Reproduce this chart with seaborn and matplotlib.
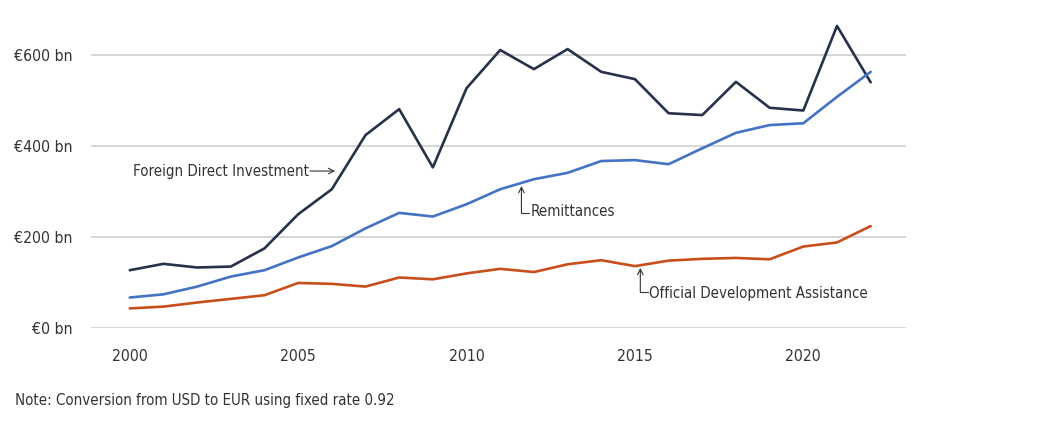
import pandas as pd
import matplotlib.pyplot as plt
from matplotlib import font_manager
import seaborn as sns

# === Data (EUR bn) ===
years = list(range(2000, 2023))
fdi = [127, 141, 133, 135, 175, 250, 305, 424, 481, 353, 527, 611, 569, 613,
       563, 547, 472, 468, 541, 484, 478, 664, 540]
remittances = [67, 74, 91, 113, 127, 155, 180, 219, 253, 245, 272, 305, 327, 341,
               367, 369, 360, 395, 429, 446, 450, 508, 563]
oda = [43, 47, 56, 64, 72, 99, 97, 91, 111, 107, 120, 130, 123, 140,
       149, 136, 148, 152, 154, 151, 179, 188, 224]
series_names = ["Foreign Direct Investment", "Remittances", "Official Development Assistance"]
series_colors = ["#25324a", "#4472c4", "#c84f1c"]
y_ticks = [0, 200, 400, 600]
y_tick_labels = ["€0 bn", "€200 bn", "€400 bn", "€600 bn"]
x_ticks = [2000, 2005, 2010, 2015, 2020]

df = pd.DataFrame({
    "year": years * 3,
    "value": fdi + remittances + oda,
    "series": [series_names[0]] * len(years) + [series_names[1]] * len(years) + [series_names[2]] * len(years),
})

sns.set_style("white")

# the original uses a condensed sans -> DejaVu Sans Condensed if it is there
fonts = font_manager.fontManager.ttflist
condensed = [f for f in fonts if f.name == "DejaVu Sans" and f.stretch in ("condensed", "semi-condensed", 625, 500)]
if condensed:
    plt.rcParams["font.family"] = ["DejaVu Sans"]
    plt.rcParams["font.stretch"] = "condensed"
    fs, fs_tick = 10.8, 11.3
else:
    plt.rcParams["font.family"] = ["Roboto", "DejaVu Sans"]
    fs, fs_tick = 10.5, 11
txt_color = "#333333"

fig = plt.figure(figsize=(10.37, 4.23), dpi=100)
ax = fig.add_axes([0.0878, 0.2246, 0.7859, 0.7529])

sns.lineplot(data=df, x="year", y="value", hue="series", hue_order=series_names,
             palette=series_colors, linewidth=1.9, legend=False, ax=ax)

ax.set_xlim(1998.85, 2023.05)
ax.set_ylim(0, 700)
ax.set_yticks(y_ticks)
ax.set_yticklabels(y_tick_labels)
ax.set_xticks(x_ticks)
ax.set_xticklabels([str(x) for x in x_ticks])
ax.tick_params(axis="y", length=0, pad=13, labelsize=fs_tick, labelcolor=txt_color)
ax.tick_params(axis="x", length=0, pad=15, labelsize=fs_tick, labelcolor=txt_color)
ax.set_xlabel("")
ax.set_ylabel("")
ax.grid(axis="y", color="#cccccc", linewidth=1.1)
ax.set_axisbelow(True)
for s in ax.spines.values():
    s.set_visible(False)

# === Labels on the lines ===
lab_kw = dict(fontsize=fs, color=txt_color, va="center")
ax.text(2000.1, 343, "Foreign Direct Investment", ha="left", **lab_kw)
ax.annotate("", xy=(2006.1, 345), xytext=(2005.35, 345),
            arrowprops=dict(arrowstyle="->", color=txt_color, lw=0.8, shrinkA=0, shrinkB=0))

ax.annotate("", xy=(2011.63, 312), xytext=(2011.63, 253),
            arrowprops=dict(arrowstyle="->", color=txt_color, lw=0.8, shrinkA=0, shrinkB=0))
ax.plot([2011.63, 2011.85], [253, 253], color=txt_color, lw=0.8)
ax.text(2011.9, 255, "Remittances", ha="left", **lab_kw)

ax.annotate("", xy=(2015.16, 132), xytext=(2015.16, 79),
            arrowprops=dict(arrowstyle="->", color=txt_color, lw=0.8, shrinkA=0, shrinkB=0))
ax.plot([2015.16, 2015.38], [79, 79], color=txt_color, lw=0.8)
ax.text(2015.43, 75, "Official Development Assistance", ha="left", **lab_kw)

fig.text(15 / 1037, 1 - 400 / 423, "Note: Conversion from USD to EUR using fixed rate 0.92",
         fontsize=fs, color=txt_color, ha="left", va="center")

fig.savefig("out.png", dpi=100)
plt.close(fig)
